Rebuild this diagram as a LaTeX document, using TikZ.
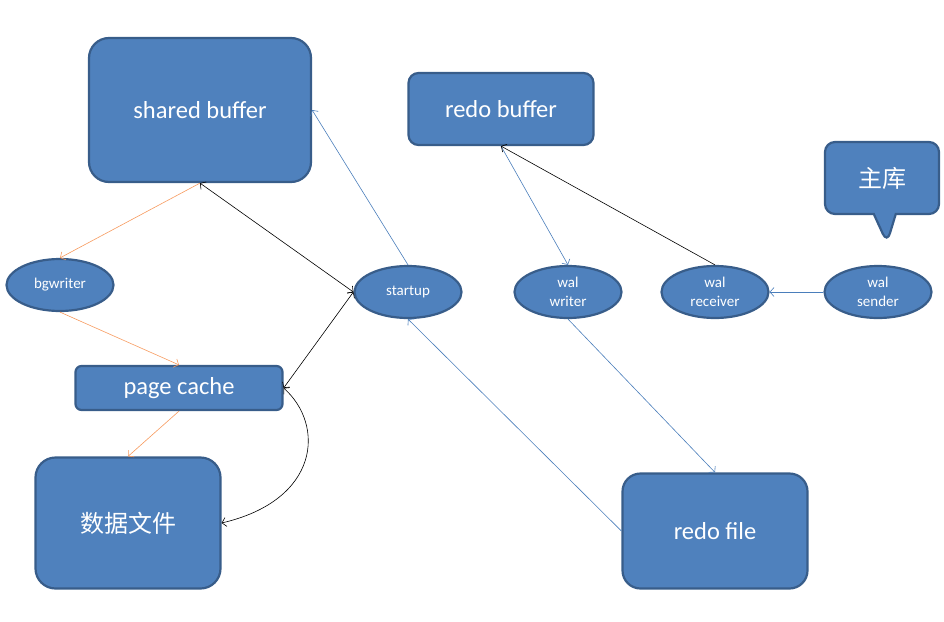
\documentclass[tikz,border=0pt]{standalone}
\usepackage{fontspec}
\setmainfont{Carlito}
\newfontfamily\cjk{Noto Sans CJK SC}
\usepackage{tikz}
\usetikzlibrary{arrows.meta,shapes.geometric,shapes.callouts}
\definecolor{BoxFill}{HTML}{4F81BD}
\definecolor{BoxLine}{HTML}{385D8A}
\definecolor{FlowBlue}{HTML}{4A7EBB}
\definecolor{FlowOrange}{HTML}{F79A5E}

\begin{document}
\begin{tikzpicture}[x=1pt,y=-1pt,
  box/.style={rectangle,draw=BoxLine,fill=BoxFill,line width=2.2pt,text=white,inner sep=0pt,font=\fontsize{24.5}{28}\selectfont},
  proc/.style={ellipse,draw=BoxLine,fill=BoxFill,line width=2.2pt,text=white,inner sep=0pt,align=center,minimum width=107pt,minimum height=52pt,font=\fontsize{15}{19}\selectfont},
  flow/.style={-{Straight Barb[length=4pt,width=9pt]},line width=0.6pt,FlowBlue},
  feed/.style={-{Straight Barb[length=4pt,width=9pt]},line width=0.6pt,FlowOrange},
  sync/.style={{Straight Barb[length=4pt,width=9pt]}-{Straight Barb[length=4pt,width=9pt]},line width=0.6pt,black}
]
\useasboundingbox (0,0) rectangle (944,621);
% boxes
\node[box,rounded corners=20pt,minimum width=222pt,minimum height=144pt] (shared) at (200,110) {shared buffer};
\node[box,rounded corners=10pt,minimum width=185pt,minimum height=72pt] (redobuf) at (501,109) {redo buffer};
\node[box,rounded corners=6pt,minimum width=207pt,minimum height=44pt] (page) at (179,388) {page cache};
\node[box,rounded corners=20pt,minimum width=185pt,minimum height=131pt,font=\cjk\fontsize{24}{28}\selectfont] (data) at (128,523) {数据文件};
\node[box,rounded corners=18pt,minimum width=185pt,minimum height=115pt] (redofile) at (715,531) {redo file};
\node[box,rectangle callout,rounded corners=10pt,minimum width=114pt,minimum height=72pt,callout absolute pointer={(887,243)},callout pointer width=22pt,font=\cjk\fontsize{24}{28}\selectfont] (master) at (882,178) {主库};
% processes
\node[proc] (bg) at (60,285) {bgwriter};
\node[proc] (startup) at (408,292) {startup};
\node[proc] (walw) at (568,292) {wal\\writer};
\node[proc] (walr) at (715,292) {wal\\receiver};
\node[proc] (wals) at (878,292) {wal\\sender};
% flows
\draw[feed] (shared.south) -- (bg.north);
\draw[feed] (bg.south) -- (page.north);
\draw[feed] (page.south) -- (data.north);
\draw[sync] (shared.south) -- (startup.west);
\draw[sync] (startup.west) -- (page.east);
\draw[sync] (page.east) .. controls (325,425) and (320,500) .. (data.east);
\draw[flow] (startup.north) -- (shared.east);
\draw[flow] (redofile.west) -- (startup.south);
\draw[flow] (redobuf.south) -- (walw.north);
\draw[flow] (walw.south) -- (redofile.north);
\draw[-{Straight Barb[length=4pt,width=9pt]},line width=0.6pt] (walr.north) -- (redobuf.south);
\draw[flow] (wals.west) -- (walr.east);
\end{tikzpicture}
\end{document}
